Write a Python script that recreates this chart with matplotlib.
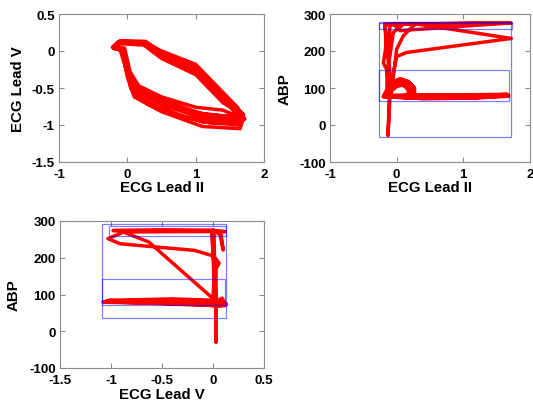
import matplotlib
matplotlib.use("Agg")
import matplotlib.pyplot as plt
from matplotlib.patches import Rectangle

plt.rcParams['font.family'] = ['Liberation Sans', 'DejaVu Sans']
plt.rcParams['font.weight'] = 'bold'
plt.rcParams['axes.unicode_minus'] = False

# ---------------- data ----------------
# Panel 1: ECG Lead II vs ECG Lead V (several beats)
p1_lead2 = [-0.20, -0.12, 0.25, 0.50, 1.00, 1.40, 1.60, 1.70, 1.62, 1.10, 0.50, 0.10, 0.00, -0.05,
            -0.20, -0.12, 0.25, 0.50, 1.00, 1.40, 1.60, 1.70, 1.65, 1.10, 0.50, 0.10, 0.00, -0.08,
            -0.18, -0.10, 0.27, 0.50, 1.00, 1.40, 1.60, 1.68, 1.60, 1.10, 0.50, 0.10, 0.02, -0.05,
            -0.19, -0.12, 0.24, 0.50, 1.00, 1.40, 1.62, 1.72, 1.55, 1.10, 0.50, 0.10, 0.00, -0.10,
            -0.17, -0.10, 0.26, 0.50, 1.00, 1.40, 1.58, 1.66, 1.40, 1.00, 0.50, 0.10, 0.00, -0.06,
            -0.20, -0.12, 0.25, 0.50, 1.00, 1.40, 1.60, 1.70, 1.65, 1.20, 0.70, 0.30, 0.05, -0.05,
            -0.22, -0.14, 0.22, 0.50, 1.00, 1.40, 1.62, 1.70, 1.45, 1.05, 0.60, 0.20, 0.04, -0.04,
            -0.18, -0.11, 0.26, 0.50, 1.00, 1.40, 1.60, 1.68, 1.58, 1.15, 0.55, 0.15, 0.01, -0.07,
            -0.20]
p1_leadV = [0.05, 0.13, 0.12, 0.00, -0.18, -0.56, -0.75, -0.88, -0.95, -0.92, -0.70, -0.50, -0.30, 0.00,
            0.04, 0.11, 0.10, -0.05, -0.25, -0.62, -0.80, -0.90, -1.05, -1.02, -0.82, -0.62, -0.35, 0.02,
            0.06, 0.14, 0.13, -0.02, -0.22, -0.60, -0.78, -0.86, -0.90, -0.85, -0.66, -0.45, -0.30, 0.02,
            0.03, 0.10, 0.08, -0.10, -0.32, -0.70, -0.82, -0.92, -0.98, -0.96, -0.78, -0.58, -0.30, 0.00,
            0.05, 0.12, 0.11, -0.08, -0.30, -0.66, -0.83, -0.90, -0.80, -0.76, -0.62, -0.44, -0.25, 0.03,
            0.04, 0.12, 0.10, -0.03, -0.20, -0.58, -0.76, -0.87, -1.00, -0.97, -0.86, -0.72, -0.50, 0.00,
            0.05, 0.12, 0.12, -0.04, -0.27, -0.64, -0.80, -0.86, -0.88, -0.84, -0.72, -0.52, -0.28, 0.04,
            0.06, 0.13, 0.11, -0.06, -0.28, -0.63, -0.79, -0.89, -0.93, -0.90, -0.75, -0.55, -0.32, 0.01,
            0.05]

# Panel 2: ECG Lead II vs ABP, normal beats
p2_lead2 = [-0.12, 0.40, 1.20, 1.68, 1.20, 0.40, -0.20, -0.14, -0.06, 0.05, 0.18, 0.26, 0.27, 0.18, 0.00,
            -0.13, 0.40, 1.20, 1.66, 1.20, 0.40, -0.19, -0.12, -0.04, 0.06, 0.17, 0.24, 0.24, 0.15, 0.00,
            -0.14, 0.40, 1.20, 1.67, 1.20, 0.40, -0.20, -0.13, -0.05, 0.07, 0.19, 0.27, 0.26, 0.17, 0.00,
            -0.12, 0.40, 1.20, 1.65, 1.20, 0.40, -0.18, -0.10, -0.02, 0.08, 0.16, 0.22, 0.20, 0.12, 0.00,
            -0.13, 0.40, 1.20, 1.68, 1.20, 0.40, -0.19, -0.08, 0.00, 0.08, 0.14, 0.18, 0.16, 0.08, -0.12]
p2_abp = [78, 79, 80, 80, 76, 74, 77, 98, 116, 124, 116, 102, 86, 76, 76,
          80, 81, 82, 83, 78, 75, 78, 100, 118, 125, 118, 104, 88, 78, 78,
          77, 78, 79, 79, 74, 72, 76, 96, 114, 121, 113, 99, 83, 74, 75,
          79, 80, 81, 81, 77, 73, 79, 94, 108, 114, 108, 96, 84, 78, 79,
          76, 77, 78, 78, 73, 71, 78, 92, 104, 108, 102, 92, 82, 78, 79]
# Panel 2: artefact segment
p2a_lead2 = [-0.10, -0.13, -0.11, -0.15, -0.20, -0.17, -0.15, -0.18, 0.30, 1.72, 0.30, 1.72, 0.15,
             0.00, -0.05, -0.08, -0.10, -0.05, 0.00, 0.10, 0.25, 0.30, -0.05, 0.05, 1.70, -0.10,
             -0.12, -0.10, -0.15, -0.14, -0.05, 0.10, -0.18, -0.12, -0.08]
p2a_abp = [80, -29, 80, 150, 168, 200, 240, 273, 274, 275, 273, 234, 196,
           185, 140, 100, 80, 130, 205, 241, 268, 274, 274, 255, 276, 272,
           200, 120, 80, 140, 250, 272, 270, 160, 80]

# Panel 3: ECG Lead V vs ABP, normal beats
p3_leadV = [0.02, -0.40, -1.08, -0.60, -0.20, 0.05, 0.13, 0.10,
            0.02, -0.40, -1.05, -0.60, -0.20, 0.05, 0.12, 0.08,
            0.02, -0.40, -1.07, -0.60, -0.20, 0.05, 0.13, 0.11,
            0.02, -0.40, -1.02, -0.60, -0.20, 0.05, 0.12, 0.09, 0.02]
p3_abp = [80, 84, 80, 77, 73, 70, 72, 78,
          82, 86, 82, 78, 75, 68, 70, 76,
          79, 83, 79, 76, 72, 70, 74, 80,
          84, 88, 84, 80, 74, 71, 73, 90, 80]
# Panel 3: artefact segment
p3a_leadV = [0.02, 0.01, -0.50, -0.98, 0.05, 0.12, -0.85, -1.03, -0.91, -0.18, 0.00, 0.00, 0.04,
             0.08, 0.10, 0.07, 0.02, -0.88, -0.63, 0.00, 0.02, 0.06, 0.03, 0.03, 0.03, 0.03,
             -0.01, 0.02]
p3a_abp = [80, 275, 276, 274, 273, 271, 273, 252, 238, 220, 205, 275, 272,
           262, 221, 262, 272, 270, 243, 89, 200, 185, 170, 80, -29, 80,
           270, 80]

# Blue boxes [x0, x1, y0, y1]
p2_box_x0 = [-0.26, -0.26, -0.26]
p2_box_x1 = [1.72, 1.68, 1.73]
p2_box_y0 = [-32, 64, 259]
p2_box_y1 = [278, 150, 276]
p3_box_x0 = [-1.09, -1.085, -1.017]
p3_box_x1 = [0.124, 0.118, 0.13]
p3_box_y0 = [37, 71, 259]
p3_box_y1 = [293, 141, 286]

# Ticks
p1_xticks = [-1, 0, 1, 2]
p1_xlabels = ['-1', '0', '1', '2']
p1_yticks = [-1.5, -1, -0.5, 0, 0.5]
p1_ylabels = ['-1.5', '-1', '-0.5', '0', '0.5']
p2_xticks = [-1, 0, 1, 2]
p2_xlabels = ['-1', '0', '1', '2']
abp_ticks = [-100, 0, 100, 200, 300]
abp_labels = ['-100', '0', '100', '200', '300']
p3_xticks = [-1.5, -1, -0.5, 0, 0.5]
p3_xlabels = ['-1.5', '-1', '-0.5', '0', '0.5']

# ---------------- figure ----------------
W, H = 533, 402
fig = plt.figure(figsize=(W / 100, H / 100), dpi=100)
fig.patch.set_facecolor('white')

def px_axes(l, t, r, b):
    return fig.add_axes([l / W, 1 - b / H, (r - l) / W, (b - t) / H])

ax1 = px_axes(59, 15, 264, 163)
ax2 = px_axes(330, 15, 530, 163)
ax3 = px_axes(60, 222, 264, 369)

red_kw = dict(color=(1, 0, 0), lw=2.5, solid_joinstyle='round', solid_capstyle='round')

ax1.plot(p1_lead2, p1_leadV, **red_kw)
ax2.plot(p2_lead2, p2_abp, **red_kw)
ax2.plot(p2a_lead2, p2a_abp, **red_kw)
ax3.plot(p3_leadV, p3_abp, **red_kw)
ax3.plot(p3a_leadV, p3a_abp, **red_kw)

for ax, x0s, x1s, y0s, y1s in [(ax2, p2_box_x0, p2_box_x1, p2_box_y0, p2_box_y1),
                               (ax3, p3_box_x0, p3_box_x1, p3_box_y0, p3_box_y1)]:
    for x0, x1, y0, y1 in zip(x0s, x1s, y0s, y1s):
        ax.add_patch(Rectangle((x0, y0), x1 - x0, y1 - y0, fill=False,
                               edgecolor=(0, 0, 1), alpha=0.5, lw=0.9, zorder=5))

setups = [
    (ax1, (-1, 2), (-1.5, 0.5), p1_xticks, p1_xlabels, p1_yticks, p1_ylabels,
     'ECG Lead II', 'ECG Lead V', -0.172, -0.20),
    (ax2, (-1, 2), (-100, 300), p2_xticks, p2_xlabels, abp_ticks, abp_labels,
     'ECG Lead II', 'ABP', -0.168, -0.225),
    (ax3, (-1.5, 0.5), (-100, 300), p3_xticks, p3_xlabels, abp_ticks, abp_labels,
     'ECG Lead V', 'ABP', -0.177, -0.225),
]
spine_col = '#8c8c8c'
for ax, xl, yl, xt, xtl, yt, ytl, xlab, ylab, xly, ylx in setups:
    ax.set_xlim(*xl)
    ax.set_ylim(*yl)
    ax.set_xticks(xt)
    ax.set_xticklabels(xtl)
    ax.set_yticks(yt)
    ax.set_yticklabels(ytl)
    ax.tick_params(direction='in', length=3.5, width=0.8, color=spine_col,
                   top=True, right=True, labelsize=9.6, labelcolor='black')
    ax.tick_params(axis='x', pad=4.0)
    ax.tick_params(axis='y', pad=3.0)
    for lab in ax.get_xticklabels() + ax.get_yticklabels():
        lab.set_fontweight('bold')
    for s in ax.spines.values():
        s.set_color(spine_col)
        s.set_linewidth(0.8)
    ax.set_xlabel(xlab, fontsize=10.8, fontweight='bold')
    ax.set_ylabel(ylab, fontsize=10.8, fontweight='bold')
    ax.xaxis.label.set_va('center')
    ax.yaxis.label.set_va('center')
    ax.xaxis.set_label_coords(0.5, xly)
    ax.yaxis.set_label_coords(ylx, 0.5)

fig.savefig('out.png', dpi=100, facecolor='white')
